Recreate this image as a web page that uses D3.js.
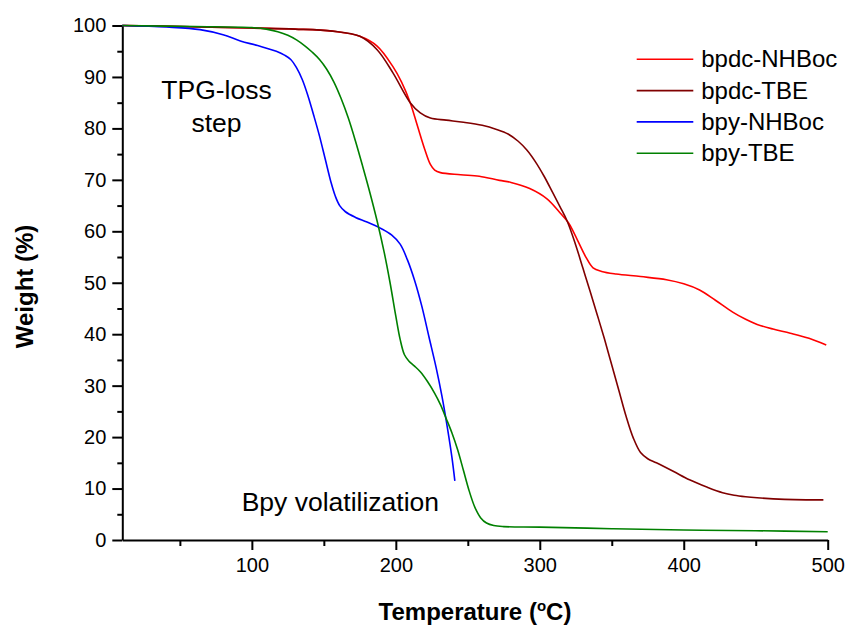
<!DOCTYPE html>
<html>
<head>
<meta charset="utf-8">
<script src="https://cdn.jsdelivr.net/npm/d3@7"></script>
<style>
  body { margin: 0; background: #fff; }
  svg { font-family: Arial, "Liberation Sans", sans-serif; }
</style>
</head>
<body>
<svg id="svg1"></svg>
<script>
// data
const seriesNames = ['bpdc-NHBoc', 'bpdc-TBE', 'bpy-NHBoc', 'bpy-TBE'];
const seriesColors = ['#ff0000', '#800000', '#0000ff', '#008000'];

const tempBpdcNHBoc = [10, 50, 100, 130, 156, 175, 187, 198, 204, 210, 215, 220, 224, 227, 231, 245, 258, 272, 280, 293, 305, 314, 320, 326, 332, 337, 343, 353, 370, 388, 400, 411, 422, 434, 443, 451, 462, 474, 487, 499];
const weightBpdcNHBoc = [100, 99.8, 99.5, 99.3, 98.9, 97.9, 96, 92, 89, 85, 80.5, 76, 73, 71.9, 71.4, 71.0, 70.7, 69.9, 69.5, 68.3, 66.3, 63.6, 61.6, 58.4, 55, 52.9, 52.2, 51.7, 51.2, 50.6, 49.8, 48.6, 46.6, 44.3, 42.9, 41.9, 41.0, 40.2, 39.2, 37.9];

const tempBpdcTBE = [10, 50, 100, 130, 156, 175, 187, 198, 210, 217, 224, 235, 247, 260, 270, 278, 285, 291, 297, 303, 309, 314, 319, 325, 330, 335, 340, 345, 350, 355, 360, 365, 370, 375, 381, 393, 404, 416, 427, 435, 443, 451, 470, 485, 497];
const weightBpdcTBE = [100, 99.8, 99.5, 99.3, 98.9, 97.9, 95.3, 90.8, 85, 83, 82, 81.6, 81.2, 80.6, 79.8, 78.9, 77.5, 75.8, 73.5, 70.7, 67.5, 64.8, 62, 57.3, 52.8, 48.3, 43.7, 39, 34, 29, 24, 19.8, 17, 15.8, 15, 13.3, 11.7, 10.3, 9.2, 8.7, 8.4, 8.2, 7.9, 7.8, 7.8];

const tempBpyNHBoc = [10, 41, 64, 80, 92, 104, 117, 123, 127, 131, 135, 139, 143, 147, 151, 155, 158, 161, 165, 172, 180, 190, 197, 203, 208, 213, 218, 223, 228, 232, 236, 239, 241];
const weightBpyNHBoc = [100, 99.7, 99.2, 98.2, 97, 96.1, 95, 94.2, 93.4, 91.8, 89.5, 86.3, 82.5, 78.5, 74, 69.5, 66.8, 65, 63.8, 62.7, 61.8, 60.5, 59.3, 57.5, 54.5, 50.5, 45.5, 39.5, 33.5, 28, 21.5, 16, 11.5];

const tempBpyTBE = [10, 60, 100, 110, 118, 125, 131, 137, 142, 147, 152, 157, 162, 167, 172, 177, 182, 187, 192, 196, 200, 203, 206, 209, 213, 217, 222, 227, 231, 235, 239, 243, 247, 251, 255, 259, 263, 268, 275, 300, 350, 400, 450, 500];
const weightBpyTBE = [100, 99.8, 99.6, 99.3, 98.8, 98.1, 97.2, 96, 94.8, 93.4, 91.5, 89, 85.8, 82, 77.5, 72.6, 67.5, 62, 55.8, 50, 43.5, 39, 36, 34.8, 33.8, 32.7, 30.8, 28.5, 26.3, 23.6, 20.8, 17.5, 13.5, 9.5, 6.3, 4.3, 3.3, 2.8, 2.6, 2.5, 2.2, 1.95, 1.8, 1.6];

const xTicks = [100, 200, 300, 400, 500];
const xMinorTicks = [50, 150, 250, 350, 450];
const yTicks = [0, 10, 20, 30, 40, 50, 60, 70, 80, 90, 100];
const yMinorTicks = [5, 15, 25, 35, 45, 55, 65, 75, 85, 95];

const allTemps = [tempBpdcNHBoc, tempBpdcTBE, tempBpyNHBoc, tempBpyTBE];
const allWeights = [weightBpdcNHBoc, weightBpdcTBE, weightBpyNHBoc, weightBpyTBE];

// layout
const margin = {top: 25.5, right: 20.3, bottom: 86, left: 122.3};
const width = 848 - margin.left - margin.right;
const height = 626 - margin.top - margin.bottom;

const svg = d3.select('#svg1')
    .attr('width', 848)
    .attr('height', 626)
    .append('g')
    .attr('transform', 'translate(' + margin.left + ',' + margin.top + ')');

const x = d3.scaleLinear().domain([10, 500]).range([0, width]);
const y = d3.scaleLinear().domain([0, 100]).range([height, 0]);

// minor ticks
svg.append('g')
    .attr('transform', 'translate(0,' + height + ')')
    .call(d3.axisBottom(x).tickValues(xMinorTicks).tickSize(6).tickFormat(''))
    .call(g => g.select('.domain').remove());
svg.append('g')
    .call(d3.axisLeft(y).tickValues(yMinorTicks).tickSize(5).tickFormat(''))
    .call(g => g.select('.domain').remove());

// major axes
svg.append('g')
    .attr('transform', 'translate(0,' + height + ')')
    .call(d3.axisBottom(x).tickValues(xTicks).tickSize(10).tickSizeOuter(0).tickPadding(8));
svg.append('g')
    .call(d3.axisLeft(y).tickValues(yTicks).tickSize(10).tickSizeOuter(0).tickPadding(6));

svg.selectAll('.tick line').attr('stroke', '#000').attr('stroke-width', 2);
svg.selectAll('.domain').attr('stroke', '#000').attr('stroke-width', 2);
svg.selectAll('.tick text')
    .attr('fill', '#000')
    .style('font-size', '20px')
    .style('font-family', 'Arial, "Liberation Sans", sans-serif');

// curves
const line = d3.line()
    .x(d => x(d[0]))
    .y(d => y(d[1]))
    .curve(d3.curveCatmullRom.alpha(0.5));

seriesNames.forEach(function(name, i) {
    const pts = allTemps[i].map((t, j) => [t, allWeights[i][j]]);
    svg.append('path')
        .datum(pts)
        .attr('fill', 'none')
        .attr('stroke', seriesColors[i])
        .attr('stroke-width', 1.6)
        .attr('d', line);
});

// legend
const legend = svg.append('g')
    .attr('transform', 'translate(' + (636.7 - margin.left) + ',' + (59.3 - margin.top) + ')');
seriesNames.forEach(function(name, i) {
    legend.append('line')
        .attr('x1', 0).attr('x2', 56.6)
        .attr('y1', i * 31.3).attr('y2', i * 31.3)
        .attr('stroke', seriesColors[i])
        .attr('stroke-width', 1.6);
    legend.append('text')
        .attr('x', 64.5)
        .attr('y', i * 31.3 + 8)
        .style('font-size', '24px')
        .text(name);
});

// annotations
svg.append('text')
    .attr('x', 216.5 - margin.left).attr('y', 99 - margin.top)
    .attr('text-anchor', 'middle')
    .style('font-size', '26.5px')
    .text('TPG-loss');
svg.append('text')
    .attr('x', 216.5 - margin.left).attr('y', 131.5 - margin.top)
    .attr('text-anchor', 'middle')
    .style('font-size', '26.5px')
    .text('step');
svg.append('text')
    .attr('x', 241.7 - margin.left).attr('y', 510.7 - margin.top)
    .style('font-size', '26.5px')
    .text('Bpy volatilization');

// axis titles
const xTitle = svg.append('text')
    .attr('x', width / 2).attr('y', 620 - margin.top)
    .attr('text-anchor', 'middle')
    .style('font-size', '24px')
    .style('font-weight', 'bold');
xTitle.append('tspan').text('Temperature (');
xTitle.append('tspan').attr('dy', -9).style('font-size', '15px').text('o');
xTitle.append('tspan').attr('dy', 9).text('C)');

svg.append('text')
    .attr('transform', 'translate(' + (33 - margin.left) + ',' + (286.5 - margin.top) + ') rotate(-90)')
    .attr('text-anchor', 'middle')
    .style('font-size', '24px')
    .style('font-weight', 'bold')
    .text('Weight (%)');
</script>
</body>
</html>
